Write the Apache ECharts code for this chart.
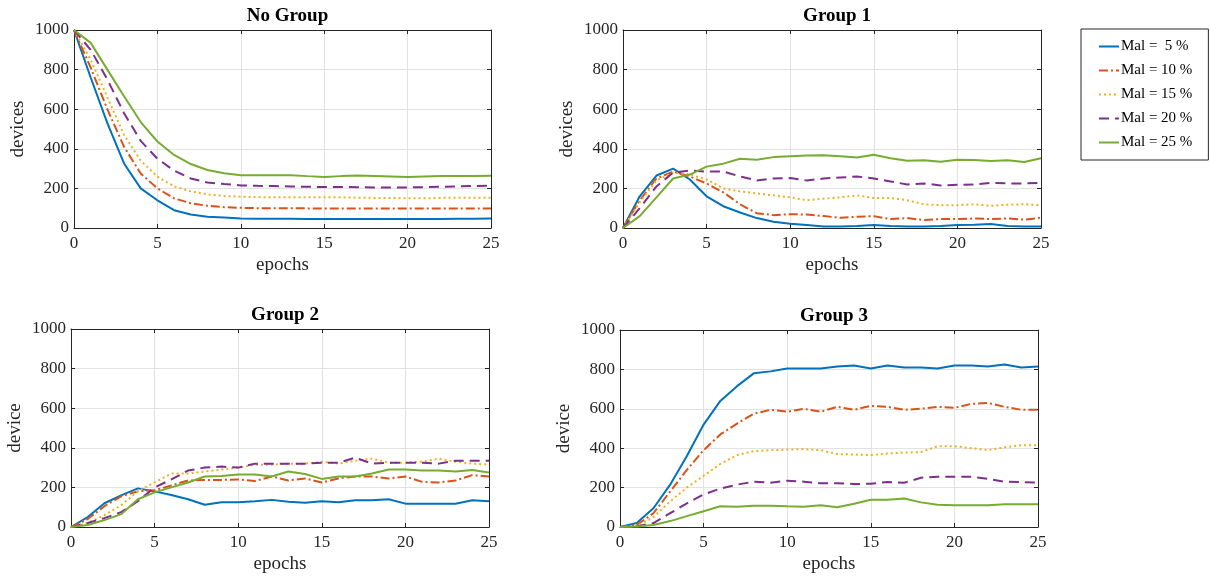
<!DOCTYPE html>
<html>
<head>
<meta charset="utf-8">
<script src="https://cdn.jsdelivr.net/npm/echarts@6/dist/echarts.min.js"></script>
<style>
  html, body { margin: 0; padding: 0; background: #fff; }
  #chart { width: 1210px; height: 578px; }
</style>
</head>
<body>
<div id="chart"></div>
<script>
// epochs 0..25
var epochs = [0,1,2,3,4,5,6,7,8,9,10,11,12,13,14,15,16,17,18,19,20,21,22,23,24,25];
var seriesNames = ['Mal =  5 %', 'Mal = 10 %', 'Mal = 15 %', 'Mal = 20 %', 'Mal = 25 %'];
var panelTitles = ['No Group', 'Group 1', 'Group 2', 'Group 3'];
var yNames = ['devices', 'devices', 'device', 'device'];

// No Group
var noGroup5  = [1000,760,530,326,200,140,90,68,57,53,48,47,47,47,46,46,46,46,46,46,46,46,46,47,47,48];
var noGroup10 = [1000,810,600,410,275,200,150,125,112,105,102,100,100,100,99,99,99,99,99,99,99,99,99,99,99,99];
var noGroup15 = [1000,850,660,470,340,260,210,185,170,162,158,156,155,155,155,155,155,153,152,152,150,150,152,153,153,153];
var noGroup20 = [1000,900,750,580,440,350,290,250,230,222,215,213,212,210,208,207,207,206,205,205,205,206,208,210,212,214];
var noGroup25 = [1000,935,800,665,535,437,369,323,293,277,267,267,267,267,262,258,262,265,263,260,257,260,262,263,262,264];

// Group 1
var group1_5  = [0,160,265,300,245,160,110,78,50,32,22,15,8,8,10,15,10,8,7,10,15,17,20,10,8,8];
var group1_10 = [0,140,250,285,260,225,180,120,75,65,70,68,60,52,57,60,45,50,40,45,45,48,45,48,42,52];
var group1_15 = [0,130,240,280,270,245,200,185,175,165,155,140,148,155,165,152,152,140,120,115,115,120,112,118,120,115];
var group1_20 = [0,100,210,280,290,285,285,260,240,250,252,240,250,255,260,250,235,220,225,215,218,220,228,225,225,228];
var group1_25 = [0,60,155,250,270,310,325,350,345,358,362,366,368,362,356,370,352,340,342,335,345,343,338,342,333,352];

// Group 2
var group2_5  = [0,50,120,160,195,180,162,140,112,125,125,130,137,128,122,130,125,135,135,140,118,117,118,117,135,130];
var group2_10 = [0,40,105,155,180,185,210,235,237,238,240,232,255,235,245,225,245,255,255,245,255,228,225,235,262,255];
var group2_15 = [0,20,60,110,180,225,270,270,280,290,300,315,315,320,320,330,320,335,345,325,325,330,345,330,320,315];
var group2_20 = [0,20,45,75,130,200,240,285,300,305,300,320,320,320,320,325,325,350,320,325,325,325,320,335,335,335];
var group2_25 = [0,10,35,65,140,175,200,225,255,258,265,265,255,280,268,243,255,255,270,290,290,285,285,280,288,275];

// Group 3
var group3_5  = [0,20,95,215,360,520,640,715,780,790,805,805,805,815,820,805,820,810,810,805,820,820,815,825,810,815];
var group3_10 = [0,10,70,180,290,390,470,525,575,595,585,600,585,610,595,615,610,595,600,610,605,625,630,610,595,595];
var group3_15 = [0,5,50,130,200,260,320,365,385,390,393,395,390,370,368,365,373,378,380,410,410,400,390,405,415,415];
var group3_20 = [0,3,20,70,120,165,195,215,230,225,235,230,222,222,218,220,228,225,250,255,255,255,245,230,228,225];
var group3_25 = [0,2,10,30,55,80,105,103,108,108,105,103,110,100,118,138,138,145,125,113,110,110,110,115,115,115];

var panels = [
  [noGroup5, noGroup10, noGroup15, noGroup20, noGroup25],
  [group1_5, group1_10, group1_15, group1_20, group1_25],
  [group2_5, group2_10, group2_15, group2_20, group2_25],
  [group3_5, group3_10, group3_15, group3_20, group3_25]
];

var colors = ['#0072BD', '#D95319', '#EDB120', '#7E2F8E', '#77AC30'];
var dashes = ['solid', [9, 3, 2, 3], [2, 3], [10, 6], 'solid'];

var grids = [
  { left: 74, top: 30, width: 417, height: 198 },
  { left: 623, top: 30, width: 418, height: 198 },
  { left: 71, top: 329, width: 418, height: 198 },
  { left: 620, top: 330, width: 418, height: 197 }
];

var font = 'Liberation Serif';
var ink = '#262626';
var plain = function (v) { return String(v); };

var xAxes = [], yAxes = [], series = [], titles = [];
grids.forEach(function (g, i) {
  titles.push({
    text: panelTitles[i],
    left: g.left + g.width / 2,
    top: g.top - 28,
    textAlign: 'center',
    textStyle: { fontFamily: font, fontSize: 19, fontWeight: 'bold', color: '#000' }
  });
  xAxes.push({
    type: 'value', gridIndex: i, min: 0, max: 25, interval: 5,
    name: 'epochs', nameLocation: 'middle', nameGap: 28,
    nameTextStyle: { fontFamily: font, fontSize: 19, color: ink },
    axisLine: { onZero: false, lineStyle: { color: ink } },
    axisTick: { show: true, inside: true, length: 4, lineStyle: { color: ink } },
    axisLabel: { fontFamily: font, fontSize: 17, color: ink, margin: 7, formatter: plain },
    splitLine: { show: true, lineStyle: { color: '#e2e2e2' } }
  });
  xAxes.push({
    type: 'value', gridIndex: i, min: 0, max: 25, interval: 5, position: 'top',
    axisLine: { onZero: false, lineStyle: { color: ink } },
    axisTick: { show: true, inside: true, length: 4, lineStyle: { color: ink } },
    axisLabel: { show: false }, splitLine: { show: false }
  });
  yAxes.push({
    type: 'value', gridIndex: i, min: 0, max: 1000, interval: 200,
    name: yNames[i], nameLocation: 'middle', nameGap: 46,
    nameTextStyle: { fontFamily: font, fontSize: 19, color: ink },
    axisLine: { show: true, onZero: false, lineStyle: { color: ink } },
    axisTick: { show: true, inside: true, length: 4, lineStyle: { color: ink } },
    axisLabel: { fontFamily: font, fontSize: 17, color: ink, margin: 5, formatter: plain },
    splitLine: { show: true, lineStyle: { color: '#e2e2e2' } }
  });
  yAxes.push({
    type: 'value', gridIndex: i, min: 0, max: 1000, interval: 200, position: 'right',
    axisLine: { show: true, onZero: false, lineStyle: { color: ink } },
    axisTick: { show: true, inside: true, length: 4, lineStyle: { color: ink } },
    axisLabel: { show: false }, splitLine: { show: false }
  });
  panels[i].forEach(function (vals, k) {
    series.push({
      name: seriesNames[k],
      type: 'line',
      xAxisIndex: i * 2,
      yAxisIndex: i * 2,
      data: epochs.map(function (e, j) { return [e, vals[j]]; }),
      showSymbol: false,
      symbol: 'none',
      animation: false,
      lineStyle: { color: colors[k], width: 2, type: dashes[k] },
      itemStyle: { color: colors[k] }
    });
  });
});

var myChart = echarts.init(document.getElementById('chart'));
myChart.setOption({
  animation: false,
  color: colors,
  title: titles,
  grid: grids,
  xAxis: xAxes,
  yAxis: yAxes,
  legend: {
    data: seriesNames,
    orient: 'vertical',
    left: 1081,
    top: 29,
    itemWidth: 20,
    itemHeight: 10,
    itemGap: 9,
    padding: [10, 16, 10, 17],
    borderColor: ink,
    borderWidth: 1,
    borderRadius: 0,
    itemStyle: { opacity: 0 },
    textStyle: { fontFamily: font, fontSize: 15, color: '#000', padding: [0, 0, 0, -3] }
  },
  series: series
});
</script>
</body>
</html>
